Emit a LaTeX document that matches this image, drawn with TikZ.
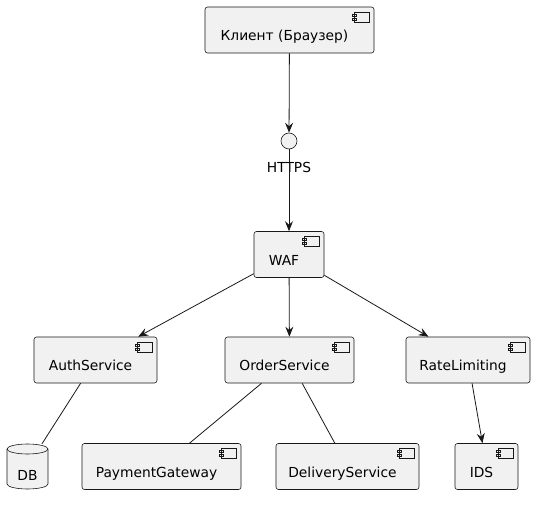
\documentclass[tikz,border=0pt]{standalone}
\usepackage{fontspec}
\setmainfont{DejaVu Sans}
\usepackage{tikz}
\usetikzlibrary{positioning,arrows.meta}
\definecolor{BoxFill}{RGB}{241,241,241}
\definecolor{BoxLine}{RGB}{24,24,24}
\tikzset{
	every node/.style={font=\fontsize{13.8}{17}\selectfont},
	comp/.style={draw=BoxLine,fill=BoxFill,rounded corners=2.5pt,line width=0.6pt,
		inner sep=0pt,minimum height=46pt,text height=22pt,text depth=1pt,
		execute at end node=\hspace*{10pt},
		path picture={
			\draw[BoxLine,line width=0.5pt,fill=BoxFill,sharp corners]
				([shift={(-20pt,-5pt)}]path picture bounding box.north east) rectangle ++(15pt,-10pt)
				([shift={(-22pt,-7pt)}]path picture bounding box.north east) rectangle ++(4pt,-2pt)
				([shift={(-22pt,-11pt)}]path picture bounding box.north east) rectangle ++(4pt,-2pt);
		}},
	store/.style={inner sep=0pt,outer sep=0pt,minimum width=41pt,minimum height=45pt,
		text height=28pt,text depth=1pt},
	iface/.style={circle,draw=BoxLine,fill=BoxFill,line width=0.6pt,minimum size=16pt,inner sep=0pt},
	link/.style={draw=BoxLine,line width=0.8pt,-{Stealth[length=10pt,width=8pt,inset=3.5pt]}},
	dep/.style={draw=BoxLine,line width=0.8pt},
}
\begin{document}
\begin{tikzpicture}[x=1pt,y=-1pt]
	\useasboundingbox (0,0) rectangle (535,505);
	\node[comp,minimum width=169pt] (client) at (289.5,30) {Клиент (Браузер)};
	\node[iface,label={[label distance=9pt]below:HTTPS}] (https) at (289,141) {};
	\node[comp,minimum width=70pt] (waf) at (289,254.5) {WAF};
	\node[comp,minimum width=123pt] (auth) at (95.5,360) {AuthService};
	\node[comp,minimum width=129pt] (order) at (289.5,360) {OrderService};
	\node[comp,minimum width=124pt] (rate) at (468,360) {RateLimiting};
	\node[comp,minimum width=159pt] (pay) at (161.5,466.5) {PaymentGateway};
	\node[comp,minimum width=143pt] (deliv) at (347.5,466.5) {DeliveryService};
	\node[comp,minimum width=63pt] (ids) at (486.5,466.5) {IDS};
	% database cylinder
	\path[draw=BoxLine,fill=BoxFill,line width=0.6pt]
		(27.5,466.5) ++(-20.5,-17.5) -- ++(0,35)
		arc[start angle=180,end angle=360,x radius=20.5pt,y radius=5pt]
		-- ++(0,-35)
		arc[start angle=0,end angle=180,x radius=20.5pt,y radius=5pt] -- cycle;
	\draw[BoxLine,line width=0.6pt] (27.5,466.5) ++(-20.5,-17.5)
		arc[start angle=180,end angle=360,x radius=20.5pt,y radius=5pt];
	\node[store] (db) at (27.5,466.5) {DB};
	\draw[link] (client) -- (https);
	\draw[link] (https) -- (waf);
	\draw[link] (waf) -- (auth);
	\draw[link] (waf) -- (order);
	\draw[link] (waf) -- (rate);
	\draw[dep] (auth) -- (db);
	\draw[dep] (order) -- (pay);
	\draw[dep] (order) -- (deliv);
	\draw[link] (rate) -- (ids);
\end{tikzpicture}
\end{document}
